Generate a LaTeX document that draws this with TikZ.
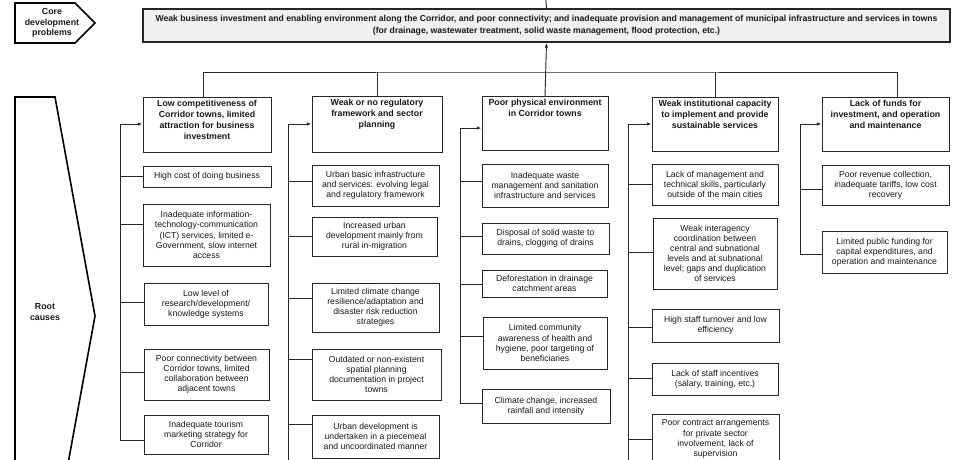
\documentclass[tikz,border=0pt]{standalone}
\usepackage{fontspec}
\setmainfont{Liberation Sans}
\usetikzlibrary{arrows.meta}
\newcommand\mkbox[8]{%
 \pgfmathsetmacro\bxw{(#5-#3)*0.75-3}%
 \pgfmathsetmacro\bxh{(#6-#4)*0.75-3}%
 \node[#1] (#2) at ({(#3+#5)/2},{(#4+#6)/2}) {\parbox[c][\bxh pt][#7]{\bxw pt}{\centering #8}};%
}
\newcommand\brch[3]{\draw[link] (#2.west |- 0,#3) -- (#1 |- 0,#3);}
\begin{document}
\begin{tikzpicture}[x=0.75pt,y=-0.75pt,
  box/.style={draw=black!85, line width=0.75pt, fill=white, inner sep=1.5pt,
    font=\fontsize{6.5}{7.6}\selectfont, text=black!90},
  head/.style={box, font=\bfseries\fontsize{6.6}{8.2}\selectfont},
  mainbox/.style={box, line width=1.4pt, fill=gray!12, font=\bfseries\fontsize{6.5}{9}\selectfont},
  side/.style={draw=black, line width=1.2pt},
  sidetext/.style={font=\bfseries\fontsize{6.6}{7.8}\selectfont, align=center, text=black!90},
  link/.style={draw=black!85, line width=0.7pt},
  arr/.style={link, -{Latex[length=3.5pt,width=2.6pt]}}]
\useasboundingbox (0,0) rectangle (960,460);
\clip (0,0) rectangle (960,460);

% side labels
\draw[side] (15,3) -- (75,3) -- (95,23) -- (75,43) -- (15,43) -- cycle;
\node[sidetext] (core) at (52,23) {Core\\development\\problems};
\draw[side] (15,97) -- (55,97) -- (95,316) -- (55,535) -- (15,535) -- cycle;
\node[sidetext] (root) at (45,312) {Root\\causes};

% main problem
\mkbox{mainbox}{main}{143}{9}{950}{42}{c}{Weak business investment and enabling environment along the Corridor, and poor connectivity; and inadequate provision and management of municipal infrastructure and services in towns\\(for drainage, wastewater treatment, solid waste management, flood protection, etc.)}

% headers
\mkbox{head}{h1}{143}{98}{271}{152}{t}{Low competitiveness of\\Corridor towns, limited\\attraction for business\\investment}
\mkbox{head}{h2}{312}{97}{442}{152}{t}{Weak or no regulatory\\framework and sector\\planning}
\mkbox{head}{h3}{482}{97}{608}{150}{t}{Poor physical environment\\in Corridor towns}
\mkbox{head}{h4}{652}{98}{778}{151}{t}{Weak institutional capacity\\to implement and provide\\sustainable services}
\mkbox{head}{h5}{822}{98}{949}{151}{t}{Lack of funds for\\investment, and operation\\and maintenance}

% column 1
\mkbox{box}{c11}{143}{166}{271}{187}{c}{High cost of doing business}
\mkbox{box}{c12}{143}{204}{270}{266}{c}{Inadequate information-\\technology-communication\\(ICT) services, limited e-\\Government, slow internet\\access}
\mkbox{box}{c13}{144}{283}{268}{325}{c}{Low level of\\research/development/\\knowledge systems}
\mkbox{box}{c14}{144}{349}{269}{400}{c}{Poor connectivity between\\Corridor towns, limited\\collaboration between\\adjacent towns}
\mkbox{box}{c15}{144}{415}{268}{454}{c}{Inadequate tourism\\marketing strategy for\\Corridor}

% column 2
\mkbox{box}{c21}{312}{165}{439}{206}{c}{Urban basic infrastructure\\and services: evolving legal\\and regulatory framework}
\mkbox{box}{c22}{312}{217}{437}{256}{c}{Increased urban\\development mainly from\\rural in-migration}
\mkbox{box}{c23}{312}{283}{439}{332}{c}{Limited climate change\\resilience/adaptation and\\disaster risk reduction\\strategies}
\mkbox{box}{c24}{312}{349}{441}{400}{c}{Outdated or non-existent\\spatial planning\\documentation in project\\towns}
\mkbox{box}{c25}{312}{415}{439}{458}{c}{Urban development is\\undertaken in a piecemeal\\and uncoordinated manner}

% column 3
\mkbox{box}{c31}{482}{164}{608}{207}{c}{Inadequate waste\\management and sanitation\\infrastructure and services}
\mkbox{box}{c32}{482}{223}{609}{254}{c}{Disposal of solid waste to\\drains, clogging of drains}
\mkbox{box}{c33}{482}{270}{607}{297}{c}{Deforestation in drainage\\catchment areas}
\mkbox{box}{c34}{483}{317}{607}{369}{c}{Limited community\\awareness of health and\\hygiene, poor targeting of\\beneficiaries}
\mkbox{box}{c35}{482}{389}{610}{423}{c}{Climate change, increased\\rainfall and intensity}

% column 4
\mkbox{box}{c41}{652}{164}{778}{205}{c}{Lack of management and\\technical skills, particularly\\outside of the main cities}
\mkbox{box}{c42}{653}{218}{777}{289}{c}{Weak interagency\\coordination between\\central and subnational\\levels and at subnational\\level; gaps and duplication\\of services}
\mkbox{box}{c43}{652}{309}{779}{342}{c}{High staff turnover and low\\efficiency}
\mkbox{box}{c44}{652}{363}{778}{395}{c}{Lack of staff incentives\\(salary, training, etc.)}
\mkbox{box}{c45}{652}{414}{779}{464}{c}{Poor contract arrangements\\for private sector\\involvement, lack of\\supervision}

% column 5
\mkbox{box}{c51}{822}{165}{949}{205}{c}{Poor revenue collection,\\inadequate tariffs, low cost\\recovery}
\mkbox{box}{c52}{822}{231}{947}{273}{c}{Limited public funding for\\capital expenditures, and\\operation and maintenance}

% tree to main problem
\coordinate (j) at (545,72);
\coordinate (above) at (545,-10);
\draw[link] (main.north) -- (above);
\draw[link] ([xshift=-3pt]h1.north) |- (j) -| ([xshift=8.6pt]h5.north);
\draw[link] (h2.north) -- (h2.north |- j);
\draw[link] (h4.north) -- (h4.north |- j);
\draw[arr] (h3.north) -- (main.south);

% trunks
\coordinate (t1) at (120,440);
\coordinate (t2) at (288,470);
\coordinate (t3) at (460,403);
\coordinate (t4) at (628,470);
\coordinate (t5) at (800,254);
\draw[arr] (t1) |- ([yshift=0.7pt]h1.west);
\draw[arr] (t2) |- ([yshift=0.4pt]h2.west);
\draw[arr] (t3) |- ([yshift=-3.4pt]h3.west);
\draw[arr] (t4) |- ([yshift=0.4pt]h4.west);
\draw[arr] (t5) |- ([yshift=0.4pt]h5.west);

\brch{t1}{c11}{176}
\brch{t1}{c12}{224}
\brch{t1}{c13}{302}
\brch{t1}{c14}{372}
\brch{t1}{c15}{440}

\brch{t2}{c21}{181}
\brch{t2}{c22}{236}
\brch{t2}{c23}{298}
\brch{t2}{c24}{359}
\brch{t2}{c25}{424}

\brch{t3}{c31}{181}
\brch{t3}{c32}{236}
\brch{t3}{c33}{284}
\brch{t3}{c34}{336}
\brch{t3}{c35}{403}

\brch{t4}{c41}{184}
\brch{t4}{c42}{252}
\brch{t4}{c43}{327}
\brch{t4}{c44}{378}
\brch{t4}{c45}{439}

\brch{t5}{c51}{189}
\brch{t5}{c52}{254}
\end{tikzpicture}
\end{document}
